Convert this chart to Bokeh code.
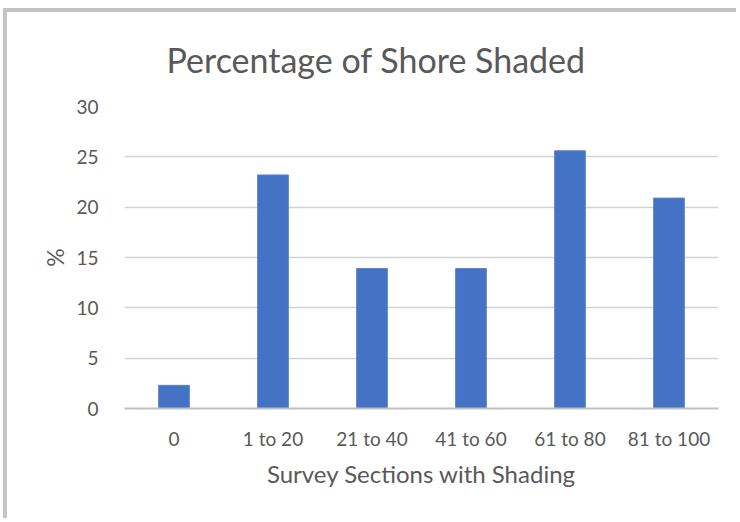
from bokeh.plotting import figure
from bokeh.models import Range1d, FixedTicker
from bokeh.embed import file_html
from bokeh.resources import INLINE

categories = ["0", "1 to 20", "21 to 40", "41 to 60", "61 to 80", "81 to 100"]
values = [2.3, 23.2, 13.9, 13.9, 25.6, 20.9]
y_ticks = [0, 5, 10, 15, 20, 25, 30]

FONT = "Lato"
TXT = "#595959"

p = figure(x_range=categories, y_range=Range1d(0, 30), width=733, height=510,
           output_backend="svg", toolbar_location=None,
           title="Percentage of Shore Shaded",
           min_border_left=117, min_border_right=22, min_border_top=94, min_border_bottom=114)
p.styles = {"margin-top": "8px", "margin-left": "3px",
            "border-top": "4px solid #c4c4c4", "border-left": "4px solid #c4c4c4"}

p.vbar(x=categories, top=values, width=0.31, color="#4472C4", line_color="#5b82c9", line_width=1)

p.x_range.range_padding = 0
p.title.align = "left"
p.title.vertical_align = "top"
p.title.text_font = FONT
p.title.text_font_size = "34px"
p.title.text_font_style = "normal"
p.title.text_color = TXT
p.title.offset = 42
p.title.standoff = 49

p.outline_line_color = None
p.xgrid.grid_line_color = None
p.ygrid.grid_line_color = "#d2d2d2"
p.ygrid.grid_line_width = 1.5
p.yaxis.ticker = FixedTicker(ticks=y_ticks)

p.yaxis.axis_line_color = None
p.yaxis.major_tick_line_color = None
p.yaxis.minor_tick_line_color = None
p.yaxis.major_label_text_font = FONT
p.yaxis.major_label_text_font_size = "19px"
p.yaxis.major_label_text_color = TXT
p.yaxis.major_label_standoff = 20
p.yaxis.axis_label = "%"
p.yaxis.axis_label_text_font = FONT
p.yaxis.axis_label_text_font_size = "23px"
p.yaxis.axis_label_text_font_style = "normal"
p.yaxis.axis_label_text_color = TXT
p.yaxis.axis_label_standoff = 4

p.xaxis.axis_line_color = "#c0c0c0"
p.xaxis.axis_line_width = 2
p.xaxis.major_tick_line_color = None
p.xaxis.minor_tick_line_color = None
p.xaxis.major_label_text_font = FONT
p.xaxis.major_label_text_font_size = "19px"
p.xaxis.major_label_text_color = TXT
p.xaxis.major_label_standoff = 12
p.xaxis.axis_label = "Survey Sections with Shading"
p.xaxis.axis_label_text_font = FONT
p.xaxis.axis_label_text_font_size = "24px"
p.xaxis.axis_label_text_font_style = "normal"
p.xaxis.axis_label_text_color = TXT
p.xaxis.axis_label_standoff = 6

open("out.html", "w").write(file_html(p, INLINE))
